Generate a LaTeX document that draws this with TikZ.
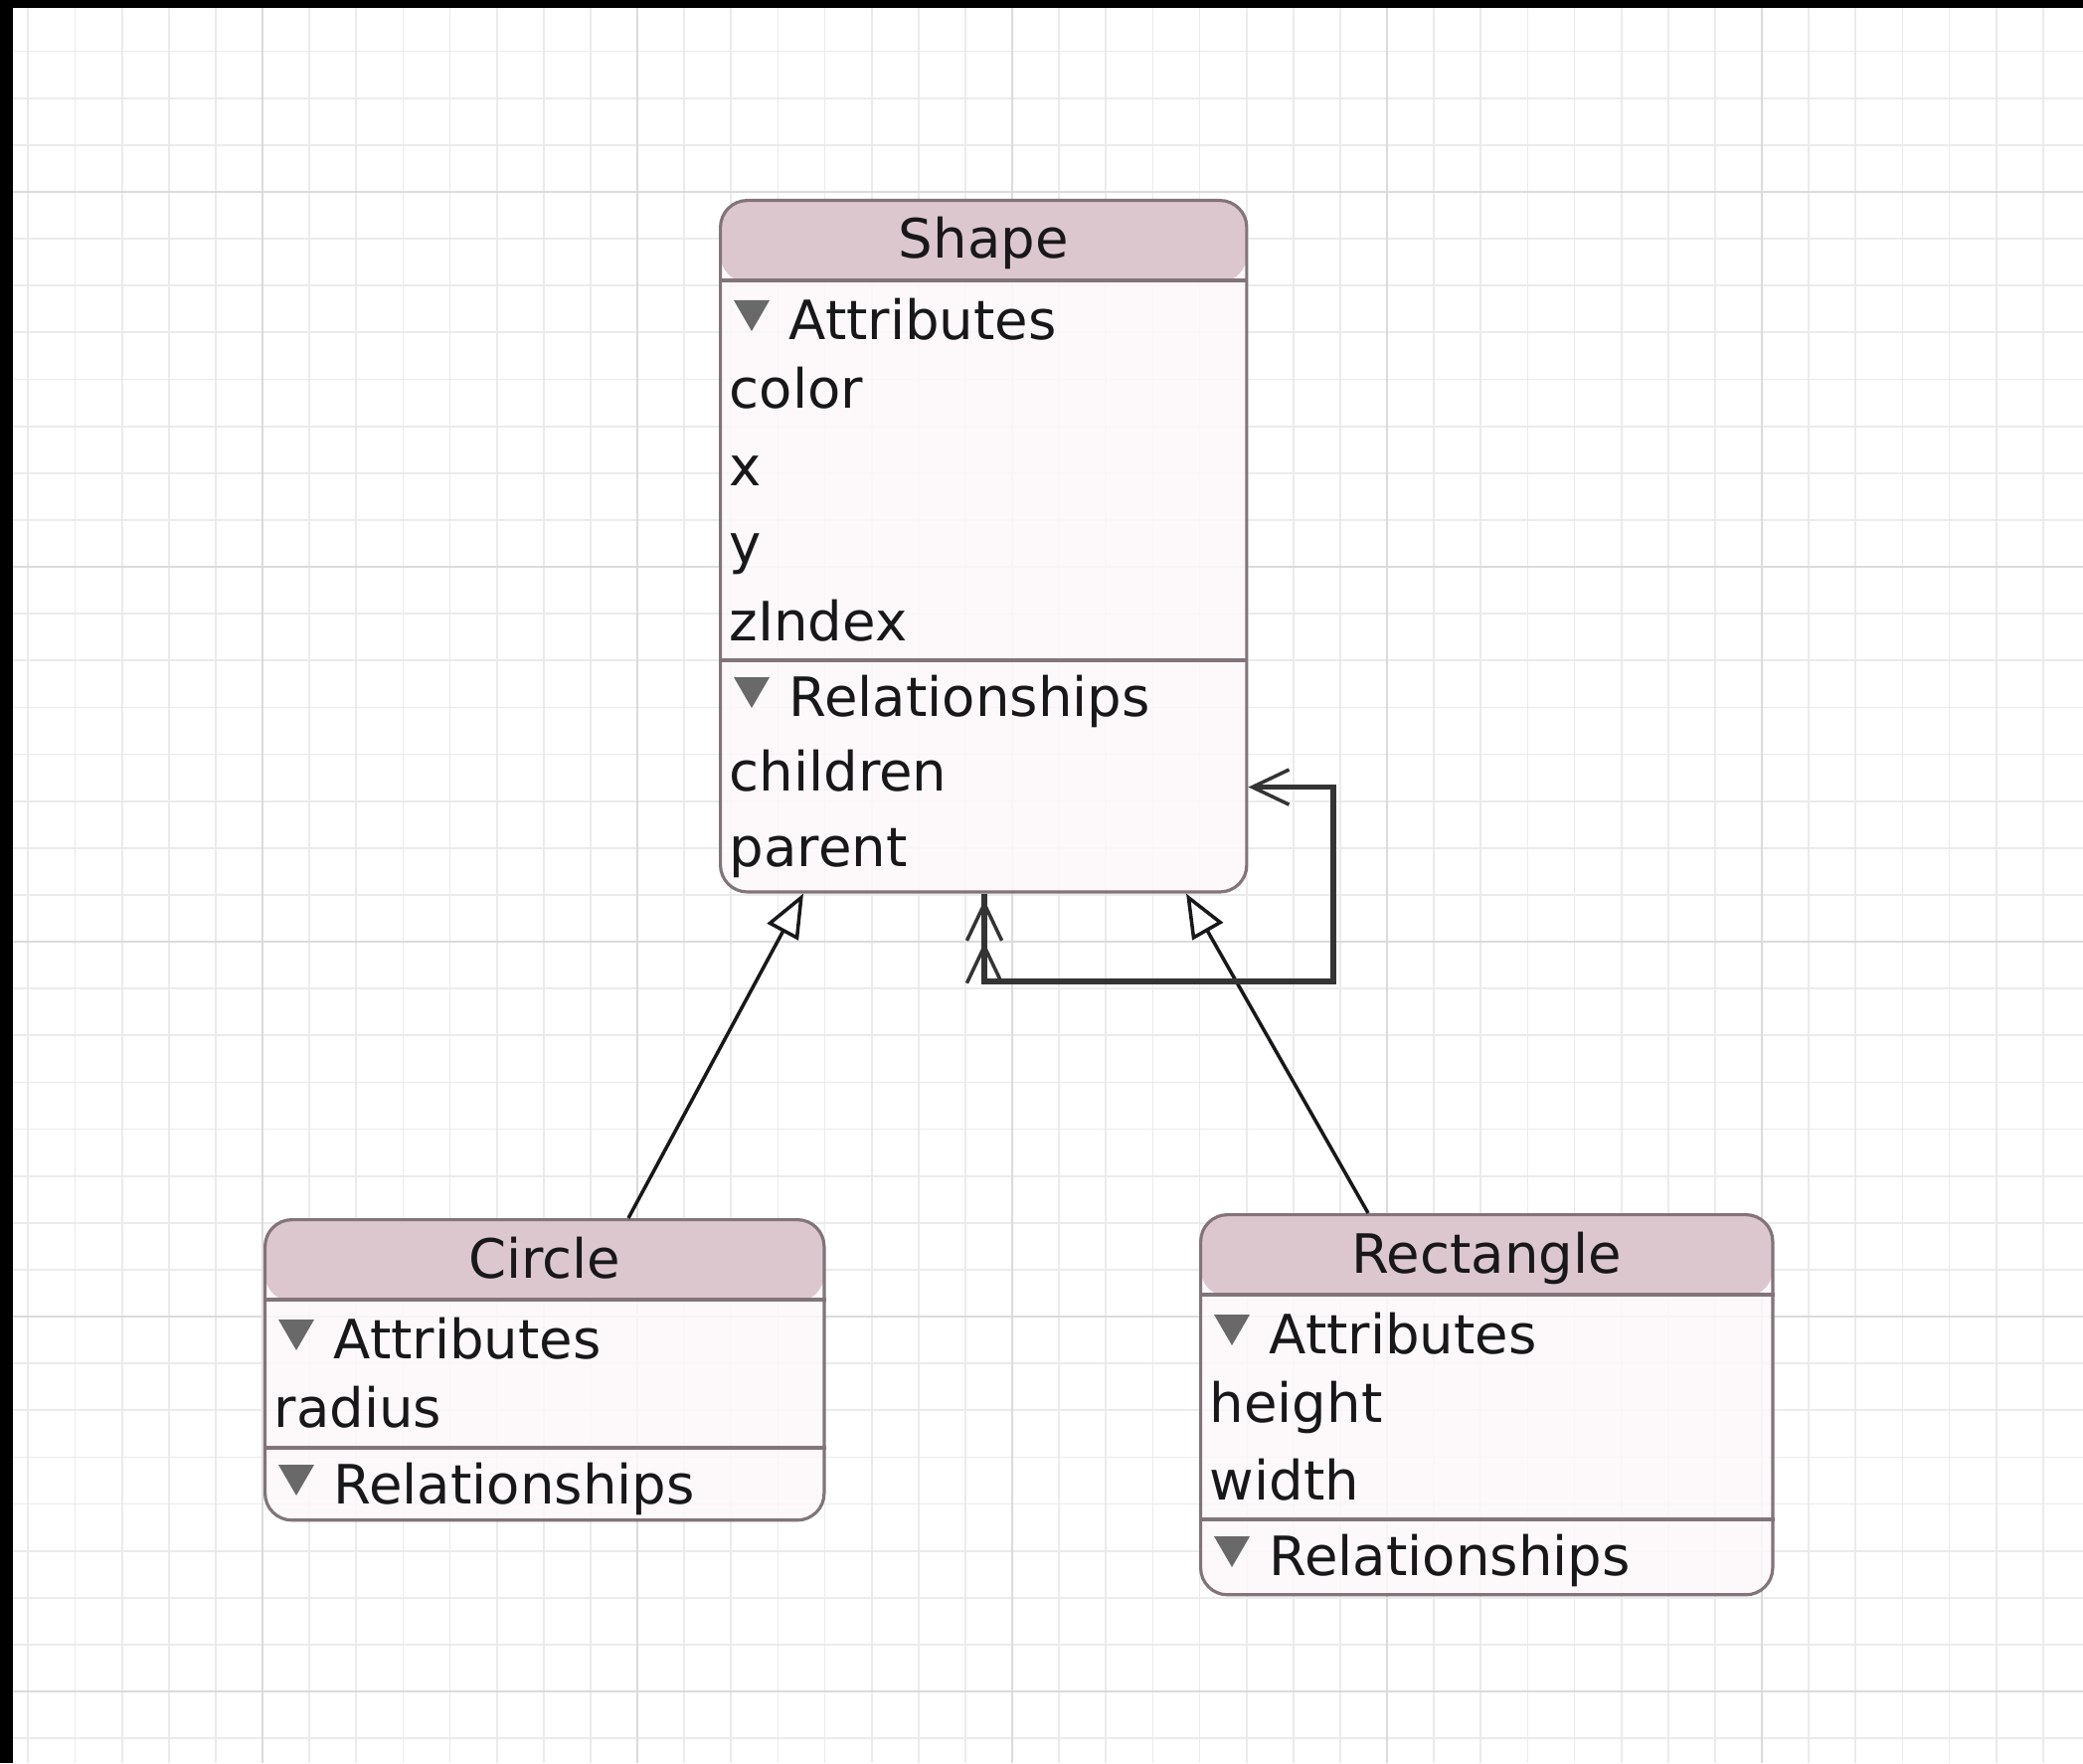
\documentclass[tikz,border=0pt]{standalone}
\usepackage{fontspec}
\setmainfont{DejaVu Sans}
\usetikzlibrary{arrows.meta}
\definecolor{boxline}{RGB}{130,116,122}
\definecolor{headfill}{RGB}{221,199,206}
\definecolor{bodyfill}{RGB}{253,249,250}
\definecolor{gridminor}{RGB}{235,235,235}
\definecolor{gridmajor}{RGB}{219,219,219}
\definecolor{tricol}{RGB}{105,105,105}
\definecolor{inkcol}{RGB}{24,24,26}
\definecolor{loopcol}{RGB}{52,52,52}

\begin{document}
\begin{tikzpicture}[x=0.01cm,y=-0.01cm,
  entity/.style={draw=boxline,line width=0.9pt,fill=bodyfill,fill opacity=.85,rounded corners=0.27cm,anchor=north west,inner sep=0pt,
    path picture={\fill[headfill,fill opacity=1] (path picture bounding box.north west) rectangle ([yshift=-0.82cm]path picture bounding box.north east);}},
  sepline/.style={draw=boxline,line width=0.9pt},
  title/.style={font=\fontsize{15.5}{18}\selectfont,text=inkcol,inner sep=0pt,anchor=base},
  attr/.style={font=\fontsize{15.5}{18}\selectfont,text=inkcol,inner sep=0pt,anchor=base west},
  tri/.style={fill=tricol},
  minorgrid/.style={draw=gridminor,line width=0.5pt},
  majorgrid/.style={draw=gridmajor,line width=0.7pt},
  inherit/.style={draw=inkcol,line width=1pt,-{Triangle[open,fill=white,length=12.5pt,width=10pt]}},
  loopline/.style={draw=loopcol,line width=1.6pt},
  barb/.tip={Straight Barb[length=10.5pt,width=10pt,line width=1pt,sep=0pt]}]
  \useasboundingbox (0,0) rectangle (2095,1773);
  % background and grid
  \fill[white] (0,0) rectangle (2095,1773);
  \foreach \k in {-5,...,38} \draw[minorgrid] ({264+47.125*\k},8) -- ({264+47.125*\k},1773);
  \foreach \k in {-3,...,33} \draw[minorgrid] (13,{193+47.125*\k}) -- (2095,{193+47.125*\k});
  \foreach \k in {0,...,4} \draw[majorgrid] ({264+377*\k},8) -- ({264+377*\k},1773);
  \foreach \k in {0,...,4} \draw[majorgrid] (13,{193+377*\k}) -- (2095,{193+377*\k});
  \fill[black] (0,0) rectangle (2095,8);
  \fill[black] (0,0) rectangle (13,1773);

  % Shape
  \node[entity,minimum width=5.29cm,minimum height=6.95cm] (eshape) at (723,200) {};
  \draw[sepline] ([shift={(0,82)}]eshape.north west) -- ([shift={(0,82)}]eshape.north east);
  \draw[sepline] ([shift={(0,464)}]eshape.north west) -- ([shift={(0,464)}]eshape.north east);
  \node[title] (shapetitle) at ([shift={(0,60)}]eshape.north) {Shape};
  \node[attr] (shapeattr) at ([shift={(70,141)}]eshape.north west) {Attributes};
  \node[attr] (shapecolor) at ([shift={(10,210)}]eshape.north west) {color};
  \node[attr] (shapex) at ([shift={(10,288)}]eshape.north west) {x};
  \node[attr] (shapey) at ([shift={(10,366)}]eshape.north west) {y};
  \node[attr] (shapez) at ([shift={(10,444)}]eshape.north west) {zIndex};
  \node[attr] (shaperel) at ([shift={(70,520)}]eshape.north west) {Relationships};
  \node[attr] (shapechildren) at ([shift={(10,595)}]eshape.north west) {children};
  \node[attr] (shapeparent) at ([shift={(10,671)}]eshape.north west) {parent};
  \fill[tri] ([shift={(-55,-39)}]shapeattr.base west) -- ++(36,0) -- ++(-18,31) -- cycle;
  \fill[tri] ([shift={(-55,-39)}]shaperel.base west) -- ++(36,0) -- ++(-18,31) -- cycle;

  % Circle
  \node[entity,minimum width=5.62cm,minimum height=3.02cm] (ecircle) at (265,1225) {};
  \draw[sepline] ([shift={(0,82)}]ecircle.north west) -- ([shift={(0,82)}]ecircle.north east);
  \draw[sepline] ([shift={(0,231)}]ecircle.north west) -- ([shift={(0,231)}]ecircle.north east);
  \node[title] (circletitle) at ([shift={(0,60)}]ecircle.north) {Circle};
  \node[attr] (circleattr) at ([shift={(70,141)}]ecircle.north west) {Attributes};
  \node[attr] (circleradius) at ([shift={(10,210)}]ecircle.north west) {radius};
  \node[attr] (circlerel) at ([shift={(70,287)}]ecircle.north west) {Relationships};
  \fill[tri] ([shift={(-55,-39)}]circleattr.base west) -- ++(36,0) -- ++(-18,31) -- cycle;
  \fill[tri] ([shift={(-55,-39)}]circlerel.base west) -- ++(36,0) -- ++(-18,31) -- cycle;

  % Rectangle
  \node[entity,minimum width=5.75cm,minimum height=3.82cm] (erect) at (1206,1220) {};
  \draw[sepline] ([shift={(0,82)}]erect.north west) -- ([shift={(0,82)}]erect.north east);
  \draw[sepline] ([shift={(0,308)}]erect.north west) -- ([shift={(0,308)}]erect.north east);
  \node[title] (recttitle) at ([shift={(0,60)}]erect.north) {Rectangle};
  \node[attr] (rectattr) at ([shift={(70,141)}]erect.north west) {Attributes};
  \node[attr] (rectheight) at ([shift={(10,210)}]erect.north west) {height};
  \node[attr] (rectwidth) at ([shift={(10,288)}]erect.north west) {width};
  \node[attr] (rectrel) at ([shift={(70,364)}]erect.north west) {Relationships};
  \fill[tri] ([shift={(-55,-39)}]rectattr.base west) -- ++(36,0) -- ++(-18,31) -- cycle;
  \fill[tri] ([shift={(-55,-39)}]rectrel.base west) -- ++(36,0) -- ++(-18,31) -- cycle;

  % connectors
  \draw[inherit] ([shift={(367,0)}]ecircle.north west) -- ([shift={(85,0)}]eshape.south west);
  \draw[inherit] ([shift={(170,0)}]erect.north west) -- ([shift={(470,0)}]eshape.south west);
  \coordinate (selfa) at ([shift={(267,0)}]eshape.south west);
  \coordinate (selfb) at ([shift={(0,-107)}]eshape.south east);
  \coordinate (loopturn) at (1341,987);
  \draw[loopline] (selfa) -- (selfa |- loopturn);
  \draw[loopline,{barb[sep=1.8pt] barb[]}-{barb[]}] (selfa) |- (loopturn) |- (selfb);
\end{tikzpicture}
\end{document}
